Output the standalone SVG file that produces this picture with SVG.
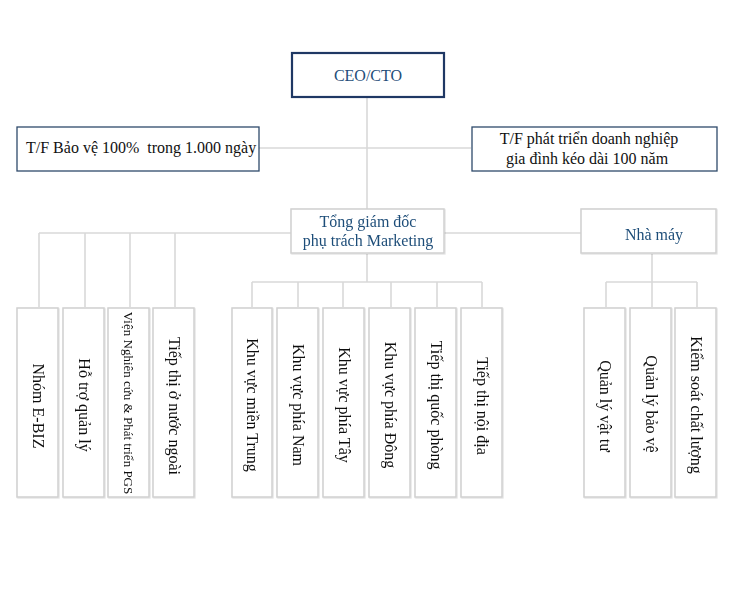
<svg xmlns="http://www.w3.org/2000/svg" width="729" height="600" viewBox="0 0 729 600">
<defs>
<style>
text{font-family:"Liberation Serif","Times New Roman",serif;font-size:16px;fill:#111;white-space:pre}
.navy{fill:#1f4e79}
.lead{fill:#fff;stroke:#1f3864;stroke-width:2.2}
.tf{fill:#fff;stroke:#2e4a6b;stroke-width:1.3}
.box{fill:#fff;stroke:#d0d0d0;stroke-width:1.5}
.con{fill:none;stroke:#d9d9d9;stroke-width:1.6}
.c{text-anchor:middle}
</style>
<filter id="sh" x="-10%" y="-10%" width="130%" height="130%">
<feDropShadow dx="0.8" dy="0.8" stdDeviation="0.6" flood-color="#000" flood-opacity="0.12"/>
</filter>
</defs>
<rect width="729" height="600" fill="#fff"/>
<g id="connectors" class="con">
<path class="con" d="M367,97V209"/>
<path class="con" d="M259,148H471"/>
<path class="con" d="M39,233H291M444,233H581"/>
<path class="con" d="M39,233V307M85,233V307M130,233V307M175,233V307"/>
<path class="con" d="M367,254V282M252,282H482M252,282V307M298,282V307M343,282V307M391,282V307M437,282V307M482,282V307"/>
<path class="con" d="M652,254V282M606,282H697M606,282V307M652,282V307M697,282V307"/>
</g>
<g id="ceo">
<rect class="lead" x="292" y="53" width="152" height="44"/>
<text class="c navy" x="368" y="81">CEO/CTO</text>
</g>
<g id="tf-bao-ve">
<rect class="tf" x="17" y="127" width="242" height="44"/>
<text x="26" y="153" xml:space="preserve">T/F Bảo vệ 100%  trong 1.000 ngày</text>
</g>
<g id="tf-phat-trien">
<rect class="tf" x="472" y="127" width="245" height="44"/>
<text class="c" x="589" y="144">T/F phát triển doanh nghiệp</text>
<text class="c" x="587" y="164">gia đình kéo dài 100 năm</text>
</g>
<g id="tong-giam-doc" filter="url(#sh)">
<rect class="box" x="291" y="209" width="153" height="44"/>
<text class="c navy" x="368" y="227">Tổng giám đốc</text>
<text class="c navy" x="368" y="246">phụ trách Marketing</text>
</g>
<g id="nha-may" filter="url(#sh)">
<rect class="box" x="581" y="209" width="135" height="44"/>
<text class="c navy" x="654" y="240">Nhà máy</text>
</g>
<g id="nhom-ebiz" filter="url(#sh)">
<rect class="box" x="17" y="308" width="41" height="189"/>
<text class="c" transform="translate(38,406) rotate(90)" y="5">Nhóm E-BIZ</text>
</g>
<g id="ho-tro-quan-ly" filter="url(#sh)">
<rect class="box" x="63" y="308" width="41" height="189"/>
<text class="c" transform="translate(84,405) rotate(90)" y="5">Hỗ trợ quản lý</text>
</g>
<g id="vien-nghien-cuu" filter="url(#sh)">
<rect class="box" x="108" y="308" width="41" height="189"/>
<text class="c" transform="translate(129,403) rotate(90)" y="5" style="font-size:13px">Viện Nghiên cứu &amp; Phát triển PGS</text>
</g>
<g id="tiep-thi-nuoc-ngoai" filter="url(#sh)">
<rect class="box" x="153" y="308" width="41" height="189"/>
<text class="c" transform="translate(174,406) rotate(90)" y="5">Tiếp thị ở nước ngoài</text>
</g>
<g id="khu-vuc-mien-trung" filter="url(#sh)">
<rect class="box" x="232" y="308" width="40" height="189"/>
<text class="c" transform="translate(252,405) rotate(90)" y="5">Khu vực miền Trung</text>
</g>
<g id="khu-vuc-phia-nam" filter="url(#sh)">
<rect class="box" x="277" y="308" width="41" height="189"/>
<text class="c" transform="translate(298,405) rotate(90)" y="5">Khu vực phía Nam</text>
</g>
<g id="khu-vuc-phia-tay" filter="url(#sh)">
<rect class="box" x="323" y="308" width="41" height="189"/>
<text class="c" transform="translate(344,405) rotate(90)" y="5">Khu vực phía Tây</text>
</g>
<g id="khu-vuc-phia-dong" filter="url(#sh)">
<rect class="box" x="369" y="308" width="41" height="189"/>
<text class="c" transform="translate(390,405) rotate(90)" y="5">Khu vực phía Đông</text>
</g>
<g id="tiep-thi-quoc-phong" filter="url(#sh)">
<rect class="box" x="415" y="308" width="41" height="189"/>
<text class="c" transform="translate(436,405) rotate(90)" y="5">Tiếp thị quốc phòng</text>
</g>
<g id="tiep-thi-noi-dia" filter="url(#sh)">
<rect class="box" x="461" y="308" width="41" height="189"/>
<text class="c" transform="translate(482,406) rotate(90)" y="5">Tiếp thị nội địa</text>
</g>
<g id="quan-ly-vat-tu" filter="url(#sh)">
<rect class="box" x="584" y="308" width="41" height="189"/>
<text class="c" transform="translate(605,406) rotate(90)" y="5">Quản lý vật tư</text>
</g>
<g id="quan-ly-bao-ve" filter="url(#sh)">
<rect class="box" x="630" y="308" width="41" height="189"/>
<text class="c" transform="translate(651,404) rotate(90)" y="5">Quản lý bảo vệ</text>
</g>
<g id="kiem-soat-chat-luong" filter="url(#sh)">
<rect class="box" x="675" y="308" width="41" height="189"/>
<text class="c" transform="translate(696,405) rotate(90)" y="5">Kiểm soát chất lượng</text>
</g>
</svg>
